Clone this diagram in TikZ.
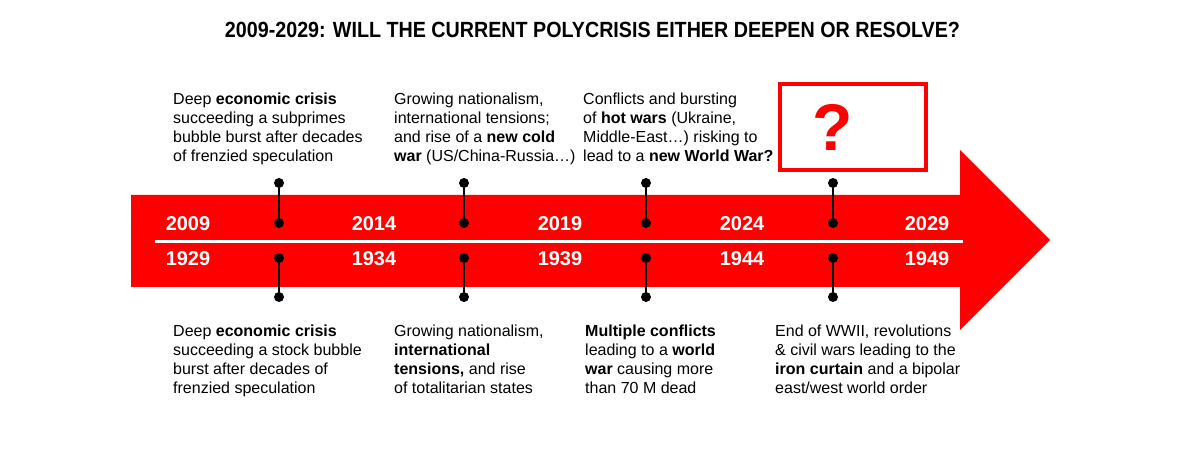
\documentclass[tikz,border=0pt]{standalone}
\usepackage{fontspec}
\setmainfont{Liberation Sans}
\usepackage{graphicx}
\definecolor{arrowred}{HTML}{FF0000}
\begin{document}
\begin{tikzpicture}[x=1pt,y=-1pt,
  dot/.style={circle,fill=black,inner sep=0pt,minimum size=10pt},
  pinline/.style={line width=2pt,black},
  year/.style={text=white,font=\bfseries\fontsize{20}{20}\selectfont,anchor=base},
  desc/.style={anchor=north west,align=left,inner sep=0pt,font=\fontsize{16}{19.2}\selectfont}]
\useasboundingbox (0,0) rectangle (1200,470);
\fill[white] (0,0) rectangle (1200,470);
% title
\node[anchor=base,inner sep=0pt,font=\bfseries\fontsize{22}{22}\selectfont] (title) at (592.5,38)
  {\resizebox{735pt}{\height}{2009-2029: WILL THE CURRENT POLYCRISIS EITHER DEEPEN OR RESOLVE?}};
% arrow
\fill[arrowred] (131,195) -- (960,195) -- (960,150) -- (1050,240) -- (960,330) -- (960,287) -- (131,287) -- cycle;
\draw[white,line width=2.5pt] (155,241.5) -- (963,241.5);
% years
\foreach \x/\a/\b [count=\i] in {188/2009/1929,374/2014/1934,560/2019/1939,742/2024/1944,927/2029/1949}{
  \node[year] (yt\i) at (\x,231) {\a};
  \node[year] (yb\i) at (\x,266) {\b};
}
% pins
\foreach \x [count=\i] in {279,464,646,833}{
  \node[dot] (ta\i) at (\x,183) {};
  \node[dot] (tb\i) at (\x,223) {};
  \node[dot] (ba\i) at (\x,258) {};
  \node[dot] (bb\i) at (\x,297) {};
  \draw[pinline] (ta\i) -- (tb\i);
  \draw[pinline] (ba\i) -- (bb\i);
}
% question box
\node[draw=arrowred,line width=4pt,minimum width=146pt,minimum height=86pt,inner sep=0pt] (qbox) at (853.3,126.7) {};
\node[text=arrowred,font=\bfseries\fontsize{66}{66}\selectfont,inner sep=0pt] (qmark) at (833,127) {?};
% top texts
\node[desc] (t1) at (173,92.5) {Deep \textbf{economic crisis}\\succeeding a subprimes\\bubble burst after decades\\of frenzied speculation};
\node[desc] (t2) at (394,92.5) {Growing nationalism,\\international tensions;\\and rise of a \textbf{new cold}\\\textbf{war} (US/China-Russia…)};
\node[desc] (t3) at (583,92.5) {Conflicts and bursting\\of \textbf{hot wars} (Ukraine,\\Middle-East…) risking to\\lead to a \textbf{new World War?}};
% bottom texts
\node[desc] (b1) at (173,324.5) {Deep \textbf{economic crisis}\\succeeding a stock bubble\\burst after decades of\\frenzied speculation};
\node[desc] (b2) at (394,324.5) {Growing nationalism,\\\textbf{international}\\\textbf{tensions,} and rise\\of totalitarian states};
\node[desc] (b3) at (585,324.5) {\textbf{Multiple conflicts}\\leading to a \textbf{world}\\\textbf{war} causing more\\than 70 M dead};
\node[desc] (b4) at (775,324.5) {End of WWII, revolutions\\\& civil wars leading to the\\\textbf{iron curtain} and a bipolar\\east/west world order};
\end{tikzpicture}
\end{document}
